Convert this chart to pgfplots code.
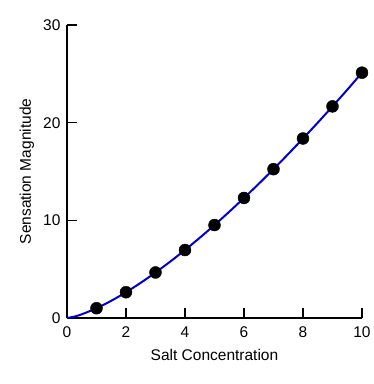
\documentclass[border=0pt]{standalone}
\usepackage{pgfplots}
\pgfplotsset{compat=1.18}
\usepackage{fontspec}
\setmainfont{Liberation Sans}
\begin{document}
\begin{tikzpicture}
\begin{axis}[
  scale only axis, width=295pt, height=293pt,
  xmin=0, xmax=10, ymin=0, ymax=30,
  axis lines=left, axis line style={line width=1.6pt, -},
  xtick={0,2,4,6,8,10}, ytick={0,10,20,30},
  tick align=inside, major tick length=10pt,
  tick style={line width=1.6pt, black},
  /pgf/number format/assume math mode=true,
  tick label style={font=\fontsize{15.5}{18}\selectfont},
  xticklabel style={yshift=-5pt},
  yticklabel style={xshift=-3pt},
  label style={font=\fontsize{15.5}{18}\selectfont},
  xlabel={Salt Concentration}, ylabel={Sensation Magnitude},
  xlabel style={at={(axis description cs:0.5,-0.126)}, anchor=center},
  ylabel style={at={(axis description cs:-0.136,0.5)}, anchor=center},
  clip=false,
]
\addplot[only marks, mark=*, mark size=6pt, black] coordinates {
(1,1.00) (2,2.64) (3,4.66) (4,6.96) (5,9.52) (6,12.29) (7,15.24) (8,18.38) (9,21.67) (10,25.12)};
\addplot[smooth, line width=2pt, color={rgb,255:red,0;green,0;blue,210}, no marks] coordinates {
(0,0) (0.25,0.144) (0.5,0.379) (1,1) (1.5,1.763) (2,2.639) (2.5,3.607) (3,4.656) (3.5,5.776) (4,6.964) (4.5,8.214) (5,9.518) (5.5,10.88) (6,12.29) (6.5,13.74) (7,15.24) (7.5,16.79) (8,18.38) (8.5,20.00) (9,21.67) (9.5,23.37) (10,25.12)};
\coordinate (ll) at (rel axis cs:0,0);
\end{axis}
\useasboundingbox (ll) ++(-67pt,-66pt) rectangle ++(374pt,384pt);
\end{tikzpicture}
\end{document}
